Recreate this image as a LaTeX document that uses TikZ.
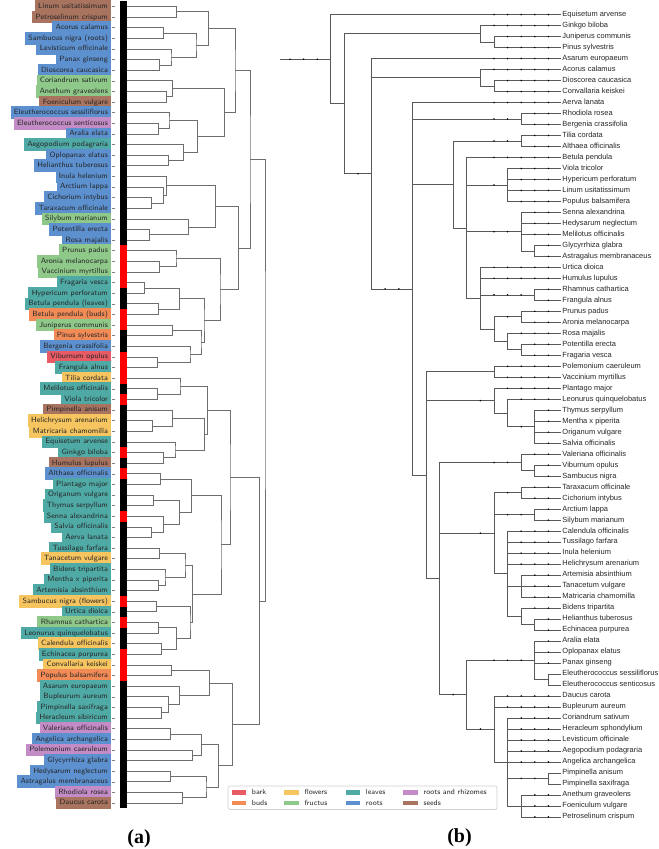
\documentclass[tikz,border=0pt]{standalone}
\usepackage{fontspec}
\setmainfont{Liberation Serif}
\newfontfamily\arialfont{Liberation Sans}
\usetikzlibrary{calc}

\definecolor{cbark}{HTML}{E85A64}
\definecolor{cbuds}{HTML}{F38B57}
\definecolor{cflow}{HTML}{F7C55F}
\definecolor{cfruc}{HTML}{8FC98A}
\definecolor{cleaf}{HTML}{4FAAA6}
\definecolor{croot}{HTML}{5C90CF}
\definecolor{crhiz}{HTML}{C48CC6}
\definecolor{cseed}{HTML}{A8735F}

\tikzset{
  lbox/.style={anchor=east, inner xsep=2.5pt, inner ysep=0pt, minimum height=9.5pt,
    text height=4.1pt, text depth=1.2pt, font=\sffamily\fontsize{5.7}{6}\selectfont, text=black!85},
  rlab/.style={anchor=west, inner sep=0.6pt, text height=4pt, text depth=1.2pt,
    font=\arialfont\fontsize{5.6}{6}\selectfont, text=black!85},
  legtext/.style={anchor=west, inner sep=0pt, font=\sffamily\fontsize{5.6}{6}\selectfont, text=black!85},
  lline/.style={draw=black!57, line width=0.55pt},
  tline/.style={draw=black!65, line width=0.5pt},
  tdot/.style={fill=black},
  panel/.style={font=\bfseries\fontsize{15}{18}\selectfont}
}

% left dendrogram: join two clusters at height x
\newcommand\merge[4]{%
  \coordinate (tmp) at ($(#2)!.5!(#3)$);
  \coordinate (#1) at (#4,0 |- tmp);
  \draw[lline] (#2) -| (#1) |- (#3);}
% right tree: one edge, with rank dots
\newcommand\twig[4]{%
  \draw[tline] (#1) |- (#3);
  \pgfmathtruncatemacro\dfrom{max(#2+1,15)}%
  \pgfmathtruncatemacro\dto{#4-1}%
  \ifnum\dfrom>\dto\else
    \foreach \k in {\dfrom,...,\dto}{\fill[tdot] (L\k |- #3) circle (0.65pt);}%
  \fi}
\newcommand\clade[5]{%
  \coordinate (tmp) at ($(#3)!.5!(#4)$);
  \coordinate (#1) at (L#2 |- tmp);
  \foreach \ch/\cl in {#5}{\twig{#1}{#2}{\ch}{\cl}}}

\begin{document}
\begin{tikzpicture}[x=0.75pt, y=-0.75pt]
\useasboundingbox (0,0) rectangle (658,849);

% (a) labels with sample type colours
\foreach \nm/\col [count=\r] in {Linum usitatissimum/cseed, Petroselinum crispum/cseed,
  Acorus calamus/croot, Sambucus nigra (roots)/croot, Levisticum officinale/croot,
  Panax ginseng/croot, Dioscorea caucasica/croot, Coriandrum sativum/cfruc,
  Anethum graveolens/cfruc, Foeniculum vulgare/cseed, Eleutherococcus sessiliflorus/croot,
  Eleutherococcus senticosus/crhiz, Aralia elata/croot, Aegopodium podagraria/cleaf,
  Oplopanax elatus/croot, Helianthus tuberosus/croot, Inula helenium/croot,
  Arctium lappa/croot, Cichorium intybus/croot, Taraxacum officinale/croot,
  Silybum marianum/cfruc, Potentilla erecta/croot, Rosa majalis/croot,
  Prunus padus/cfruc, Aronia melanocarpa/cfruc, Vaccinium myrtillus/cfruc,
  Fragaria vesca/cleaf, Hypericum perforatum/cleaf, Betula pendula (leaves)/cleaf,
  Betula pendula (buds)/cbuds, Juniperus communis/cfruc, Pinus sylvestris/cbuds,
  Bergenia crassifolia/croot, Viburnum opulus/cbark, Frangula alnus/cleaf,
  Tilia cordata/cflow, Melilotus officinalis/cleaf, Viola tricolor/cleaf,
  Pimpinella anisum/cseed, Helichrysum arenarium/cflow, Matricaria chamomilla/cflow,
  Equisetum arvense/cleaf, Ginkgo biloba/cleaf, Humulus lupulus/cseed,
  Althaea officinalis/croot, Plantago major/cleaf, Origanum vulgare/cleaf,
  Thymus serpyllum/cleaf, Senna alexandrina/cleaf, Salvia officinalis/cleaf,
  Aerva lanata/cleaf, Tussilago farfara/cleaf, Tanacetum vulgare/cflow,
  Bidens tripartita/cleaf, Mentha x piperita/cleaf, Artemisia absinthium/cleaf,
  Sambucus nigra (flowers)/cflow, Urtica dioica/cleaf, Rhamnus cathartica/cfruc,
  Leonurus quinquelobatus/cleaf, Calendula officinalis/cflow, Echinacea purpurea/cleaf,
  Convallaria keiskei/cflow, Populus balsamifera/cbuds, Asarum europaeum/cleaf,
  Bupleurum aureum/cleaf, Pimpinella saxifraga/cleaf, Heracleum sibiricum/cleaf,
  Valeriana officinalis/crhiz, Angelica archangelica/croot, Polemonium caeruleum/crhiz,
  Glycyrrhiza glabra/croot, Hedysarum neglectum/croot, Astragalus membranaceus/croot,
  Rhodiola rosea/crhiz, Daucus carota/cseed}
{
  \node[lbox, fill=\col] (la\r) at (111.5,{6.5+10.62*(\r-1)}) {\nm\hspace{6.1pt}};
  \draw[black!50, line width=0.4pt] (112.2,{6.5+10.62*(\r-1)}) -- (114.8,{6.5+10.62*(\r-1)});
  \coordinate (lf\r) at (126.7,{6.5+10.62*(\r-1)});
}

% colour bar
\fill[black] (120,1.2) rectangle (126.7,808.4);
\foreach \r in {24,25,26,27,30,31,34,35,36,38,43,45,49,57,59,62,63,64}
  \fill[red] (120,{1.2+10.62*(\r-1)}) rectangle (126.7,{1.2+10.62*\r});

% clustering
\foreach \nm/\ca/\cb/\xx in {m1/lf1/lf2/176.7, m2/lf3/lf4/163.3, m3/lf6/lf7/159.3,
  m4/lf5/m3/171, m5/m2/m4/196, m6/m1/m5/208.3, m7/lf9/lf10/166.7, m8/lf8/m7/172.3,
  m9/lf12/lf13/158.3, m10/lf11/m9/169, m11/lf15/lf16/168.3, m12/lf14/m11/183.3,
  m13/m10/m12/197.3, m14/m8/m13/224.3, m15/m6/m14/235, m16/lf19/lf20/151.7,
  m17/lf18/m16/163.3, m18/lf17/m17/166.7, m19/lf22/lf23/149.3, m20/lf21/m19/188.3,
  m21/m18/m20/215.7, m22/lf25/lf26/159.3, m23/lf24/m22/176, m24/lf27/lf28/144.3,
  m25/lf29/lf30/158.3, m26/m24/m25/179.3, m27/lf31/lf32/172.3, m28/lf34/lf35/157.7,
  m29/lf33/m28/190, m30/m27/m29/201, m31/m26/m30/204, m32/m23/m31/220,
  m33/m21/m32/238.3, m34/m15/m33/250, m35/lf37/lf38/157.3, m36/lf36/m35/180,
  m37/lf40/lf41/152.3, m38/lf39/m37/172.3, m39/lf43/lf44/163.3, m40/lf42/m39/175,
  m41/m38/m40/204.3, m42/m36/m41/207.3, m43/lf45/lf46/160.7, m44/lf47/lf48/153.3,
  m45/lf50/lf51/151.7, m46/lf49/m45/163.3, m47/m44/m46/179.3, m48/m43/m47/191.7,
  m49/lf52/lf53/159.3, m50/lf55/lf56/158.3, m51/lf54/m50/165, m52/m49/m51/185,
  m53/lf57/lf58/156.7, m54/lf59/lf60/158.3, m55/lf61/lf62/161.7, m56/m54/m55/176.7,
  m57/m53/m56/190, m58/m52/m57/192.7, m59/m48/m58/221, m60/m42/m59/230,
  m61/lf63/lf64/171.7, m62/lf67/lf68/161.7, m63/lf66/m62/168.3, m64/lf65/m63/179.3,
  m65/m61/m64/209.3, m66/lf69/lf70/170.7, m67/lf71/lf72/192.7, m68/m66/m67/201.7,
  m69/lf73/lf74/170.7, m70/lf75/lf76/182.7, m71/m69/m70/206, m72/m68/m71/218.3,
  m73/m65/m72/232.3, m74/m60/m73/259.3, lroot/m34/m74/265}
  \merge{\nm}{\ca}{\cb}{\xx};

% legend
\draw[draw=black!18, fill=white, line width=0.5pt, rounded corners=1.5pt] (228,786) rectangle (497,809.5);
\foreach \id/\nm/\col/\xx/\yy in {bark/bark/cbark/231.7/792.3, buds/buds/cbuds/231.7/803,
  flow/flowers/cflow/284.3/792.3, fruc/fructus/cfruc/284.3/803,
  leaf/leaves/cleaf/345.7/792.3, root/roots/croot/345.7/803,
  rhiz/roots and rhizomes/crhiz/403.3/792.3, seed/seeds/cseed/403.3/803}
{
  \fill[\col] (\xx,{\yy-2.3}) rectangle ++(14.5,4.6);
  \node[legtext] (lg\id) at ({\xx+20},\yy) {\nm};
}

% (b) taxonomy
\foreach \k in {0,...,20} \coordinate (L\k) at ({290+13.6*\k},0);
\foreach \nm [count=\r] in {Equisetum arvense, Ginkgo biloba, Juniperus communis,
  Pinus sylvestris, Asarum europaeum, Acorus calamus, Dioscorea caucasica,
  Convallaria keiskei, Aerva lanata, Rhodiola rosea, Bergenia crassifolia, Tilia cordata,
  Althaea officinalis, Betula pendula, Viola tricolor, Hypericum perforatum,
  Linum usitatissimum, Populus balsamifera, Senna alexandrina, Hedysarum neglectum,
  Melilotus officinalis, Glycyrrhiza glabra, Astragalus membranaceus, Urtica dioica,
  Humulus lupulus, Rhamnus cathartica, Frangula alnus, Prunus padus, Aronia melanocarpa,
  Rosa majalis, Potentilla erecta, Fragaria vesca, Polemonium caeruleum,
  Vaccinium myrtillus, Plantago major, Leonurus quinquelobatus, Thymus serpyllum,
  Mentha x piperita, Origanum vulgare, Salvia officinalis, Valeriana officinalis,
  Viburnum opulus, Sambucus nigra, Taraxacum officinale, Cichorium intybus,
  Arctium lappa, Silybum marianum, Calendula officinalis, Tussilago farfara,
  Inula helenium, Helichrysum arenarium, Artemisia absinthium, Tanacetum vulgare,
  Matricaria chamomilla, Bidens tripartita, Helianthus tuberosus, Echinacea purpurea,
  Aralia elata, Oplopanax elatus, Panax ginseng, Eleutherococcus sessiliflorus,
  Eleutherococcus senticosus, Daucus carota, Bupleurum aureum, Coriandrum sativum,
  Heracleum sphondylium, Levisticum officinale, Aegopodium podagraria,
  Angelica archangelica, Pimpinella anisum, Pimpinella saxifraga, Anethum graveolens,
  Foeniculum vulgare, Petroselinum crispum}
  \node[rlab] (rt\r) at (561.4,{14.6+10.99*(\r-1)}) {\nm};

\clade{conif}{15}{rt3}{rt4}{rt3/20,rt4/20}
\clade{gymno}{14}{rt2}{conif}{rt2/20,conif/15}
\clade{aspar}{15}{rt7}{rt8}{rt7/20,rt8/20}
\clade{mono}{14}{rt6}{aspar}{rt6/20,aspar/15}
\clade{saxi}{17}{rt10}{rt11}{rt10/20,rt11/20}
\clade{malv}{17}{rt12}{rt13}{rt12/20,rt13/20}
\clade{malp}{16}{rt15}{rt18}{rt15/20,rt16/20,rt17/20,rt18/20}
\clade{glyc}{18}{rt22}{rt23}{rt22/20,rt23/20}
\clade{fabac}{17}{rt19}{glyc}{rt19/20,rt20/20,rt21/20,glyc/18}
\clade{rhamn}{18}{rt26}{rt27}{rt26/20,rt27/20}
\clade{prun}{17}{rt28}{rt29}{rt28/20,rt29/20}
\clade{poten}{17}{rt31}{rt32}{rt31/20,rt32/20}
\clade{rosoid}{16}{rt30}{poten}{rt30/20,poten/17}
\clade{rosac}{15}{prun}{rosoid}{prun/17,rosoid/16}
\clade{rosal}{14}{rt24}{rosac}{rt24/20,rt25/20,rhamn/18,rosac/15}
\clade{fabid}{13}{rt14}{rosal}{rt14/20,malp/16,fabac/17,rosal/14}
\clade{rosid}{12}{malv}{fabid}{malv/17,fabid/13}
\clade{eric}{15}{rt33}{rt34}{rt33/20,rt34/20}
\clade{lamc}{18}{rt37}{rt40}{rt37/20,rt38/20,rt39/20,rt40/20}
\clade{lamb}{16}{rt36}{lamc}{rt36/20,lamc/18}
\clade{lama}{15}{rt35}{lamb}{rt35/20,lamb/16}
\clade{adox}{18}{rt42}{rt43}{rt42/20,rt43/20}
\clade{dips}{17}{rt41}{adox}{rt41/20,adox/18}
\clade{cich}{17}{rt44}{rt45}{rt44/20,rt45/20}
\clade{card}{18}{rt46}{rt47}{rt46/20,rt47/20}
\clade{anth}{17}{rt52}{rt54}{rt52/20,rt53/20,rt54/20}
\clade{helb}{18}{rt56}{rt57}{rt56/20,rt57/20}
\clade{hela}{17}{rt55}{helb}{rt55/20,helb/18}
\clade{astoid}{16}{rt48}{hela}{rt48/20,rt49/20,rt50/20,rt51/20,anth/17,hela/17}
\clade{astc}{15}{cich}{astoid}{cich/17,card/18,astoid/16}
\clade{eleu}{19}{rt61}{rt62}{rt61/20,rt62/20}
\clade{aral}{18}{rt58}{eleu}{rt58/20,rt59/20,rt60/20,eleu/19}
\clade{pimp}{19}{rt70}{rt71}{rt70/20,rt71/20}
\clade{aneth}{17}{rt72}{rt74}{rt72/20,rt73/20,rt74/20}
\clade{apio}{16}{rt65}{aneth}{rt65/20,rt66/20,rt67/20,rt68/20,rt69/20,pimp/19,aneth/17}
\clade{apiac}{15}{rt63}{apio}{rt63/20,rt64/20,apio/16}
\clade{apial}{13}{aral}{apiac}{aral/18,apiac/15}
\clade{campa}{11}{dips}{apial}{dips/17,astc/15,apial/13}
\clade{aster}{10}{eric}{campa}{eric/15,lama/15,campa/11}
\clade{eudi}{9}{rt9}{aster}{rt9/20,saxi/17,rosid/12,aster/10}
\clade{angio}{6}{rt5}{eudi}{rt5/20,mono/14,eudi/9}
\clade{seed}{4}{gymno}{angio}{gymno/14,angio/6}
\clade{rroot}{3}{rt1}{seed}{rt1/20,seed/4}
\coordinate (rstem) at ($(rroot)+(-50.8,0)$);
\draw[tline] (rstem) -- (rroot);
% rank dots on the deep stems
\foreach \k/\n in {0/rroot,1/rroot,2/rroot,5/angio,7/eudi,8/eudi,14/lama,14/astc,14/apiac,12/apial}
  \fill[tdot] (L\k |- \n) circle (0.65pt);

% panel letters
\node[panel] (pa) at (139,839) {(a)};
\node[panel] (pb) at (459.5,838) {(b)};
\end{tikzpicture}
\end{document}
